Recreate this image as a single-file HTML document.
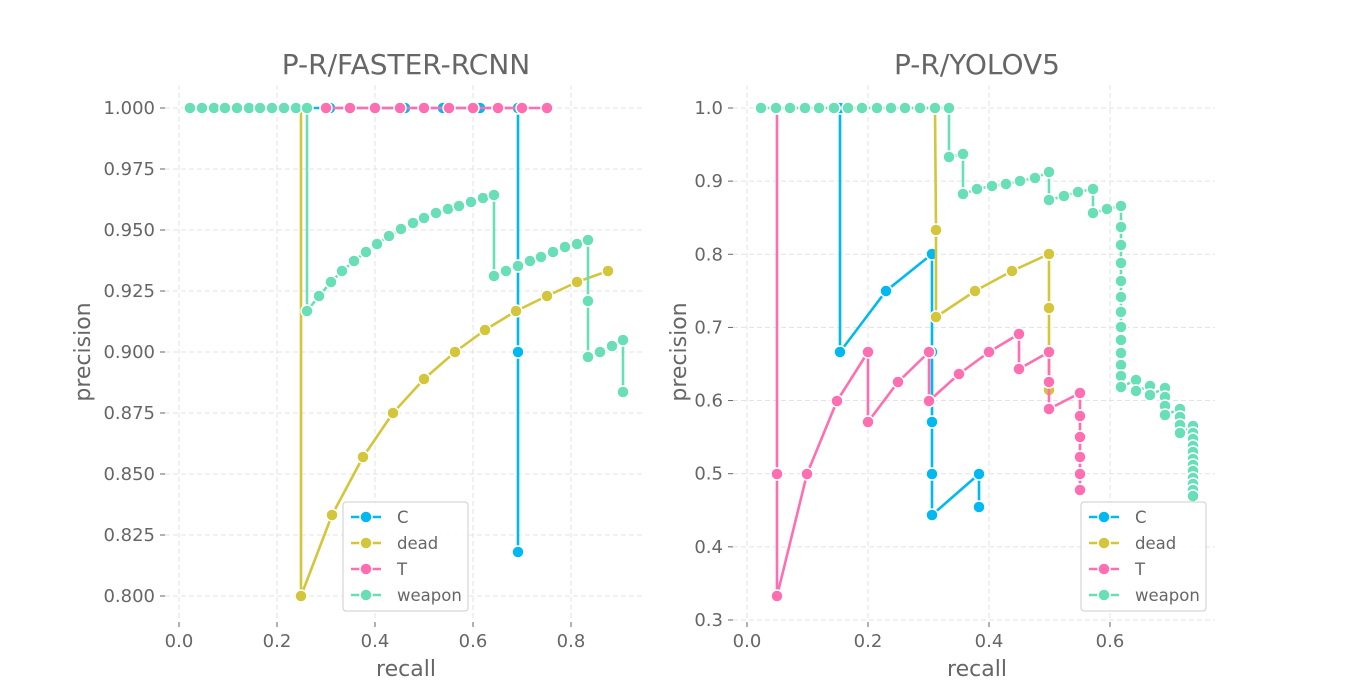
<!DOCTYPE html>
<html><head><meta charset="utf-8"><style>
html,body{margin:0;padding:0;background:#fff;}
svg{display:block;font-family:"DejaVu Sans","Liberation Sans",sans-serif;}
</style></head><body>
<svg id="s" width="1350" height="697" xmlns="http://www.w3.org/2000/svg">
<rect width="1350" height="697" fill="#fff"/>
<g id="grid" stroke="#e3e3e3" stroke-width="1" stroke-dasharray="5,3"></g>
<g id="ticks" fill="#666" font-size="18"></g>
<g id="series"></g>
<text x="406" y="74" text-anchor="middle" font-size="28" fill="#666">P-R/FASTER-RCNN</text>
<text x="977" y="74" text-anchor="middle" font-size="28" fill="#666">P-R/YOLOV5</text>
<text x="406" y="676" text-anchor="middle" font-size="22" fill="#666">recall</text>
<text x="977" y="676" text-anchor="middle" font-size="22" fill="#666">recall</text>
<text transform="translate(90,352) rotate(-90)" text-anchor="middle" font-size="22" fill="#666">precision</text>
<text transform="translate(686,352) rotate(-90)" text-anchor="middle" font-size="22" fill="#666">precision</text>
<g id="legends"></g>
</svg>
<script>
var NS="http://www.w3.org/2000/svg";
function el(t,a,p,txt){var e=document.createElementNS(NS,t);for(var k in a)e.setAttribute(k,a[k]);if(txt!=null)e.textContent=txt;document.getElementById(p).appendChild(e);return e;}
[0,0.2,0.4,0.6,0.8].forEach(function(v){var x=179+v*490;el('line',{x1:x,y1:85,x2:x,y2:620},'grid');el('text',{x:x,y:647,'text-anchor':'middle'},'ticks',v.toFixed(1));el('line',{x1:x,y1:622,x2:x,y2:627,stroke:'#666'},'ticks');});
for(var i=0;i<=8;i++){var v=1-i*0.025,y=108+i*61;el('line',{x1:165,y1:y,x2:643,y2:y},'grid');el('text',{x:155,y:y+6,'text-anchor':'end'},'ticks',v.toFixed(3));el('line',{x1:160,y1:y,x2:165,y2:y,stroke:'#666'},'ticks');}
[0,0.2,0.4,0.6].forEach(function(v){var x=747+v*605;el('line',{x1:x,y1:85,x2:x,y2:620},'grid');el('text',{x:x,y:647,'text-anchor':'middle'},'ticks',v.toFixed(1));el('line',{x1:x,y1:622,x2:x,y2:627,stroke:'#666'},'ticks');});
for(var i=0;i<=7;i++){var v=1-i*0.1,y=108+i*73.14;el('line',{x1:733,y1:y,x2:1215,y2:y},'grid');el('text',{x:723,y:y+6,'text-anchor':'end'},'ticks',v.toFixed(1));el('line',{x1:728,y1:y,x2:733,y2:y,stroke:'#666'},'ticks');}
var C='#00b9f2',D='#d4c63a',T='#ff6eb0',W='#68dfb6';
function ser(pts,col,dots){
 el('polyline',{points:pts.map(function(p){return p.join(',')}).join(' '),fill:'none',stroke:col,'stroke-width':2.6,'stroke-linejoin':'round'},'series');
 (dots||pts).forEach(function(p){el('circle',{cx:p[0],cy:p[1],r:6,fill:col,stroke:'#fff','stroke-width':1.5},'series');});
}
ser([[285,108],[330,108],[375,108],[405,108],[443,108],[480,108],[518,108],[518,352],[518,552]],C);
var dl=[[249,108],[301,108],[301,596],[332,515],[363,457],[393,413],[424,379],[455,352],[485,330],[516,311],[547,296],[577,282],[608,271]];
ser(dl,D,dl.slice(2));
ser([[326,108],[350,108],[375,108],[400,108],[424,108],[449,108],[473,108],[498,108],[522,108],[547,108]],T);
var wl=[];[190,202,214,225,237,249,260,272,284,296,307].forEach(function(x){wl.push([x,108]);});
wl=wl.concat([[307,311],[319,296],[331,282],[342,271],[354,261],[366,252],[377,244],[389,236],[401,229],[413,223],[424,218],[436,213],[448,209],[459,206],[471,202],[483,198],[494,195],[494,276],[506,271],[518,266],[530,261],[541,257],[553,252],[565,247],[577,244],[588,240],[588,301],[588,357],[600,352],[612,346],[623,340],[623,392]]);
ser(wl,W);
ser([[840,108],[840,352],[886,291],[932,254],[932,352],[932,422],[932,474],[932,515],[979,474],[979,507]],C);
ser([[790,108],[905,108],[935,108],[936,230],[936,317],[975,291],[1012,271],[1049,254],[1049,308],[1049,352],[1049,390]],D);
ser([[777,108],[777,474],[777,596],[807,474],[837,401],[868,352],[868,422],[898,382],[929,352],[929,401],[959,374],[989,352],[1019,334],[1019,369],[1049,352],[1049,382],[1049,409],[1080,393],[1080,416],[1080,437],[1080,457],[1080,474],[1080,490]],T);
var wr=[];[761,776,790,805,819,834,848,862,877,891,905,920,935,949].forEach(function(x){wr.push([x,108]);});
wr=wr.concat([[949,157],[963,154],[963,194],[977,189],[992,186],[1006,184],[1020,181],[1035,178],[1049,172],[1049,200],[1064,196],[1078,192],[1093,189],[1093,213],[1107,209],[1121,206]]);
[227,245,263,281,297,312,327,340,353,365,376,387].forEach(function(y){wr.push([1121,y]);});
wr=wr.concat([[1136,380],[1136,391],[1150,386],[1150,395],[1165,388],[1165,397],[1165,406],[1165,415],[1180,409],[1180,417],[1180,425],[1180,433]]);
[426,433,439,446,452,459,465,471,478,484,490,496].forEach(function(y){wr.push([1193,y]);});
ser(wr,W);
function legend(x,y){
 el('rect',{x:x,y:y,width:125,height:109,rx:3,fill:'#fff','fill-opacity':0.85,stroke:'#ccc'},'legends');
 [[C,'C'],[D,'dead'],[T,'T'],[W,'weapon']].forEach(function(s,i){var yy=y+15+i*26;
  el('line',{x1:x+8,y1:yy,x2:x+38,y2:yy,stroke:s[0],'stroke-width':2.6},'legends');
  el('circle',{cx:x+23,cy:yy,r:6,fill:s[0],stroke:'#fff','stroke-width':1.5},'legends');
  el('text',{x:x+54,y:yy+6,'font-size':16.5,fill:'#666'},'legends',s[1]);});
}
legend(343,502);legend(1081,502);
</script>
</body></html>
